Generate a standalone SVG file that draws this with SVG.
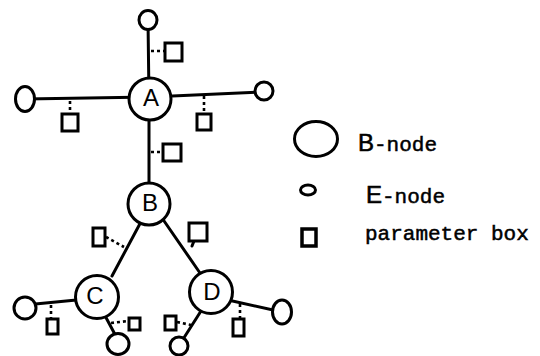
<svg xmlns="http://www.w3.org/2000/svg" width="540" height="356" viewBox="0 0 540 356">
  <style>
    .edge { stroke: #000; stroke-width: 3; stroke-linecap: round; fill: none; }
    .tie { stroke: #000; stroke-width: 2.6; stroke-dasharray: 3 3; fill: none; }
    .bnode { fill: #fff; stroke: #000; stroke-width: 3; }
    .enode { fill: #fff; stroke: #000; stroke-width: 3; }
    .pbox { fill: #fff; stroke: #000; stroke-width: 3; }
    .lbl { font-family: "Liberation Sans Narrow", "Liberation Sans", Arial, sans-serif; font-size: 24px; fill: #000; text-anchor: middle; }
    .sans { font-family: "Liberation Sans", Arial, sans-serif; font-size: 24px; stroke: #000; stroke-width: 0.6; }
    .mono { font-family: "Liberation Mono", "Courier New", monospace; font-size: 21px; stroke: #000; stroke-width: 0.5; }
  </style>

  <!-- connectors: tree edges, then ties from edges to parameter boxes -->
  <g id="connectors">
    <line class="edge" x1="148" y1="20" x2="149" y2="99"/>
    <line class="edge" x1="25" y1="99" x2="150" y2="97"/>
    <line class="edge" x1="150" y1="97" x2="264" y2="92"/>
    <line class="edge" x1="149" y1="99" x2="149" y2="204"/>
    <line class="edge" x1="143" y1="218" x2="112" y2="276"/>
    <line class="edge" x1="162" y1="218" x2="200" y2="273"/>
    <line class="edge" x1="25" y1="305" x2="97" y2="298"/>
    <line class="edge" x1="103" y1="312" x2="118" y2="340"/>
    <line class="edge" x1="201" y1="311" x2="180" y2="344"/>
    <line class="edge" x1="228" y1="300" x2="282" y2="312"/>

    <line class="tie" x1="151" y1="51" x2="164" y2="51"/>
    <line class="tie" x1="70" y1="101" x2="70" y2="113"/>
    <line class="tie" x1="204" y1="96" x2="204" y2="113"/>
    <line class="tie" x1="151" y1="152" x2="162" y2="152"/>
    <line class="tie" x1="106" y1="237" x2="124" y2="247"/>
    <line class="edge" x1="194" y1="241" x2="192" y2="246"/>
    <line class="tie" x1="51" y1="305" x2="51" y2="318"/>
    <line class="tie" x1="111" y1="323" x2="128" y2="321"/>
    <line class="tie" x1="177" y1="322" x2="191" y2="325"/>
    <line class="tie" x1="240" y1="304" x2="240" y2="318"/>
  </g>

  <!-- B-nodes -->
  <g id="node-A">
    <circle class="bnode" cx="150" cy="99" r="21"/>
    <text class="lbl" x="151" y="106">A</text>
  </g>
  <g id="node-B">
    <circle class="bnode" cx="149" cy="204" r="21"/>
    <text class="lbl" x="150" y="211">B</text>
  </g>
  <g id="node-C">
    <circle class="bnode" cx="97" cy="297" r="21.5"/>
    <text class="lbl" x="95" y="304">C</text>
  </g>
  <g id="node-D">
    <circle class="bnode" cx="211" cy="292" r="21.5"/>
    <text class="lbl" x="212" y="300">D</text>
  </g>

  <!-- E-nodes -->
  <g id="e-top"><ellipse class="enode" cx="148" cy="20" rx="9" ry="9.5"/></g>
  <g id="e-left"><ellipse class="enode" cx="25" cy="99" rx="9.5" ry="12.5"/></g>
  <g id="e-right"><ellipse class="enode" cx="264" cy="91" rx="9" ry="9"/></g>
  <g id="e-c-left"><ellipse class="enode" cx="25" cy="308" rx="11" ry="11"/></g>
  <g id="e-c-bottom"><ellipse class="enode" cx="118" cy="344" rx="11" ry="10.5"/></g>
  <g id="e-d-left"><ellipse class="enode" cx="179" cy="346" rx="9" ry="9"/></g>
  <g id="e-d-right"><ellipse class="enode" cx="282" cy="312" rx="9.5" ry="12"/></g>

  <!-- parameter boxes -->
  <g id="p-top"><rect class="pbox" x="165" y="43" width="17" height="18"/></g>
  <g id="p-a-left"><rect class="pbox" x="62" y="114" width="16" height="17"/></g>
  <g id="p-a-right"><rect class="pbox" x="197" y="114" width="14" height="16"/></g>
  <g id="p-a-b"><rect class="pbox" x="163" y="144" width="18" height="17"/></g>
  <g id="p-b-c"><rect class="pbox" x="93" y="228" width="12" height="18"/></g>
  <g id="p-b-d"><rect class="pbox" x="189" y="223" width="18" height="18"/></g>
  <g id="p-c-left"><rect class="pbox" x="47" y="319" width="11" height="15"/></g>
  <g id="p-c-bottom"><rect class="pbox" x="129" y="318" width="11" height="12"/></g>
  <g id="p-d-left"><rect class="pbox" x="165" y="316" width="11" height="14"/></g>
  <g id="p-d-right"><rect class="pbox" x="233" y="319" width="11" height="17"/></g>

  <!-- legend -->
  <g id="legend">
    <ellipse class="bnode" cx="316" cy="139" rx="21.5" ry="17.5"/>
    <text x="358" y="151"><tspan class="sans">B</tspan><tspan class="mono">-node</tspan></text>
    <ellipse class="enode" cx="308" cy="190" rx="7.5" ry="5"/>
    <text x="366" y="203"><tspan class="sans">E</tspan><tspan class="mono">-node</tspan></text>
    <rect class="pbox" x="302" y="229" width="14" height="17" style="stroke-width:3.5"/>
    <text class="mono" x="365" y="240">parameter box</text>
  </g>
</svg>
